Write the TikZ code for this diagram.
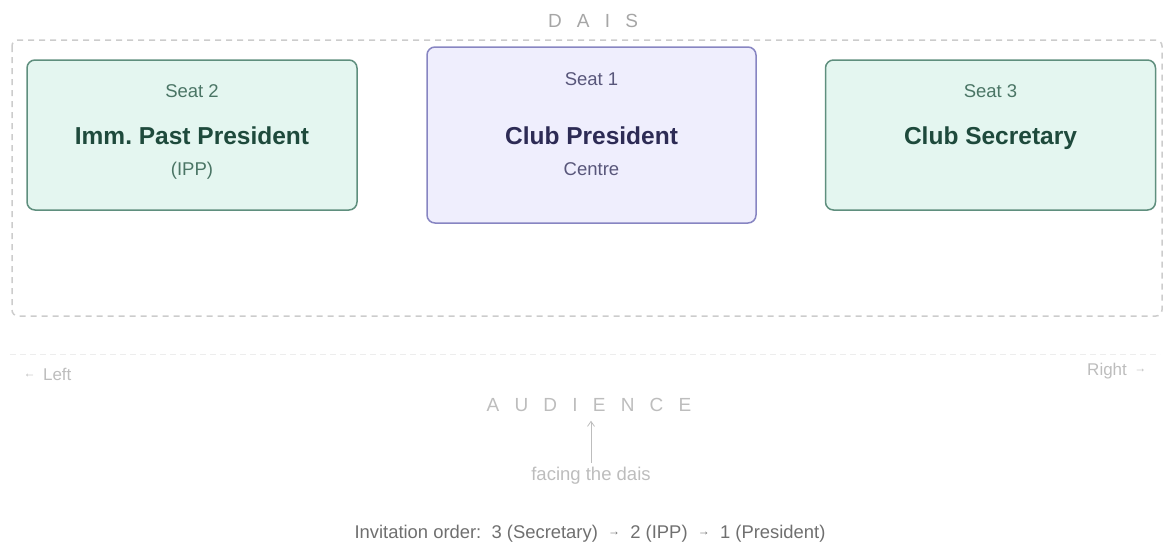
\documentclass[tikz,border=0pt]{standalone}
\usepackage{fontspec}
\setmainfont{Liberation Sans}
\newfontfamily\spacedfont[LetterSpace=80]{Liberation Sans}
\usetikzlibrary{arrows.meta}

\definecolor{mintfill}{HTML}{E4F6F0}
\definecolor{mintline}{HTML}{5F8F7E}
\definecolor{minttext}{HTML}{1E4A3C}
\definecolor{mintsub}{HTML}{4A7565}
\definecolor{lavfill}{HTML}{EFEEFD}
\definecolor{lavline}{HTML}{8785C2}
\definecolor{lavtext}{HTML}{2D2B55}
\definecolor{lavsub}{HTML}{58567A}
\definecolor{daisgray}{HTML}{CCCCCC}
\definecolor{softgray}{HTML}{BDBDBD}
\definecolor{notegray}{HTML}{6F6F6F}

\newcommand{\smallarrow}[1]{\raisebox{0.3ex}{\fontsize{12}{12}\selectfont #1}}

\tikzset{
  seatbox/.style={draw=mintline, fill=mintfill, line width=1.5pt, rounded corners=8pt,
    minimum width=330pt, minimum height=150pt, inner sep=0pt},
  chairbox/.style={seatbox, draw=lavline, fill=lavfill, minimum width=329pt, minimum height=176pt},
  seatno/.style={anchor=base, text=mintsub, font=\fontsize{18.5}{22}\selectfont},
  seattitle/.style={anchor=base, text=minttext, font=\fontsize{24.5}{28}\selectfont\bfseries},
  chairno/.style={seatno, text=lavsub},
  chairtitle/.style={seattitle, text=lavtext},
  hall/.style={anchor=base, text=softgray, font=\fontsize{19}{22}\selectfont\spacedfont},
  side/.style={text=softgray, font=\fontsize{17}{20}\selectfont},
}

\begin{document}
\begin{tikzpicture}[x=1pt, y=-1pt]
\useasboundingbox (0,0) rectangle (1165,547);

% dais outline and floor edge
\draw[daisgray, line width=1.5pt, dash pattern=on 6pt off 5pt, rounded corners=6pt] (12,40) rectangle (1162,316);
\draw[black!7, line width=1pt, dash pattern=on 6pt off 4pt] (10,354) -- (1160,354);
\node[hall, text=black!35] (dais) at (593,27) {DAIS};

% the three seats
\node[seatbox] (seat2) at (192,135) {};
\node[chairbox] (seat1) at (591.5,135) {};
\node[seatbox] (seat3) at (990.5,135) {};

\node[seatno] (seat2no) at (192,97) {Seat 2};
\node[seattitle] (seat2title) at (192,144) {Imm.\ Past President};
\node[seatno] (seat2sub) at (192,175) {(IPP)};

\node[chairno] (seat1no) at (591.5,85) {Seat 1};
\node[chairtitle] (seat1title) at (591.5,144) {Club President};
\node[chairno] (seat1sub) at (591.5,175) {Centre};

\node[seatno] (seat3no) at (990.5,97) {Seat 3};
\node[seattitle] (seat3title) at (990.5,144) {Club Secretary};

% audience side
\node[side, anchor=base west] (left) at (20,380) {\smallarrow{←}\, Left};
\node[side, anchor=base east] (right) at (1150,375) {Right\, \smallarrow{→}};
\node[hall] (audience) at (589,411) {AUDIENCE};
\node[side, anchor=base, font=\fontsize{18.5}{22}\selectfont] (facing) at (591,480) {facing the dais};
\draw[softgray, line width=0.8pt, -{Straight Barb[length=5pt, width=7pt]}, shorten >=6pt]
  (facing.north) -- (audience.south -| facing.north);

\node[anchor=base, text=notegray, font=\fontsize{18.4}{20}\selectfont] (order) at (590,538)
  {Invitation order:\ \ 3 (Secretary)\ \ \smallarrow{→}\ \ 2 (IPP)\ \ \smallarrow{→}\ \ 1 (President)};
\end{tikzpicture}
\end{document}
